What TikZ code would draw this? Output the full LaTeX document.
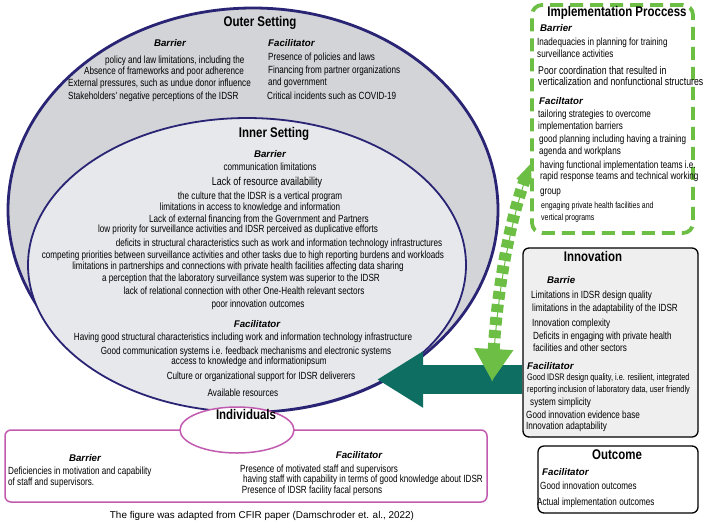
\documentclass[tikz,border=0pt]{standalone}
\usepackage{fontspec}
\setmainfont{Liberation Sans}
\newfontfamily\nar{Liberation Sans}[FakeStretch=0.78]
\newfontfamily\nartl{Liberation Sans}[FakeStretch=0.82]
\usetikzlibrary{arrows.meta,shapes.geometric}
\definecolor{navy}{HTML}{2A2474}
\definecolor{outergray}{HTML}{D3D4D8}
\definecolor{innergray}{HTML}{E7E8EC}
\definecolor{magent}{HTML}{C25BB0}
\definecolor{grn}{HTML}{6CBE45}
\definecolor{tealc}{HTML}{0E6E62}
\definecolor{boxgray}{HTML}{EFEFEF}
\begin{document}
\begin{tikzpicture}[x=1pt,y=-1pt,
  tx/.style={font=\nar\fontsize{#1}{12}\selectfont, inner sep=0pt},
  tx/.default=10.4,
  ttl/.style={font=\nartl\bfseries\fontsize{14}{16}\selectfont, inner sep=0pt},
  sub/.style={font=\bfseries\itshape\fontsize{9.7}{11}\selectfont, inner sep=0pt},
  captxt/.style={font=\fontsize{9.9}{11}\selectfont, inner sep=0pt},
  roundbox/.style={draw, rounded corners=6pt, inner sep=0pt}
]
\useasboundingbox (0,0) rectangle (708,528);
\fill[white] (0,0) rectangle (708,528);

% setting ellipses
\filldraw[fill=outergray, draw=navy, line width=2.8pt] (253,210) ellipse [x radius=245, y radius=202];
\filldraw[fill=innergray, draw=navy, line width=1.8pt] (247,265) ellipse [x radius=219, y radius=147];

% Outer setting text
\node[ttl, anchor=mid] (outerT) at (260,24) {Outer Setting};
\node[sub, anchor=mid] (outerB) at (170,44) {Barrier};
\node[tx, anchor=mid west] (ob1) at (105,61) {policy and law limitations, including the};
\node[tx, anchor=mid west] (ob2) at (84,72) {Absence of frameworks and poor adherence};
\node[tx, anchor=mid west] (ob3) at (68,84) {External pressures, such as undue donor influence};
\node[tx, anchor=mid west] (ob4) at (68,97) {Stakeholders' negative perceptions of the IDSR};
\node[sub, anchor=mid west] (outerF) at (268,44) {Facilitator};
\node[tx, anchor=mid west] (of1) at (268,58) {Presence of policies and laws};
\node[tx, anchor=mid west] (of2) at (268,71) {Financing from partner organizations};
\node[tx, anchor=mid west] (of3) at (268,83) {and government};
\node[tx, anchor=mid west] (of4) at (267,97) {Critical incidents such as COVID-19};

% Inner setting text
\node[ttl, anchor=mid] (innerT) at (274,135) {Inner Setting};
\node[sub, anchor=mid] (innerB) at (270,155) {Barrier};
\node[tx, anchor=mid] (ib1) at (270,168) {communication limitations};
\node[tx=11.5, anchor=mid] (ib2) at (267,183) {Lack of resource availability};
\node[tx, anchor=mid] (ib3) at (260,197) {the culture that the IDSR is a vertical program};
\node[tx, anchor=mid] (ib4) at (250,208) {limitations in access to knowledge and information};
\node[tx, anchor=mid] (ib5) at (259,220) {Lack of external financing from the Government and Partners};
\node[tx, anchor=mid] (ib6) at (238,230) {low priority for surveillance activities and IDSR perceived as duplicative efforts};
\node[tx, anchor=mid] (ib7) at (279,244) {deficits in structural characteristics such as work and information technology infrastructures};
\node[tx, anchor=mid] (ib8) at (243,256) {competing priorities between surveillance activities and other tasks due to high reporting burdens and workloads};
\node[tx, anchor=mid] (ib9) at (238,267) {limitations in partnerships and connections with private health facilities affecting data sharing};
\node[tx, anchor=mid] (ib10) at (241,279) {a perception that the laboratory surveillance system was superior to the IDSR};
\node[tx, anchor=mid] (ib11) at (244,292) {lack of relational connection with other One-Health relevant sectors};
\node[tx, anchor=mid] (ib12) at (258,305) {poor innovation outcomes};
\node[sub, anchor=mid] (innerF) at (257,325) {Facilitator};
\node[tx, anchor=mid] (if1) at (243,338) {Having good structural characteristics including work and information technology infrastructure};
\node[tx, anchor=mid] (if2) at (246,352) {Good communication systems i.e. feedback mechanisms and electronic systems};
\node[tx, anchor=mid] (if3) at (249,362) {access to knowledge and informationipsum};
\node[tx, anchor=mid] (if4) at (261,377) {Culture or organizational support for IDSR deliverers};
\node[tx, anchor=mid] (if5) at (243,394) {Available resources};

% teal arrow
\node[roundbox, fill=boxgray, line width=1.3pt, minimum width=175pt, minimum height=189pt] (innov) at (610.5,342.5) {};
\coordinate (tealtip) at (377,379.5);
\draw[tealc, line width=29pt, -{Triangle[length=46pt,width=53pt]}] (innov.west |- tealtip) -- (tealtip);

% Individuals
\node[roundbox, draw=magent, fill=white, line width=1.5pt, minimum width=482pt, minimum height=72pt] (indbox) at (246,466) {};
\node[ellipse, draw=magent, fill=white, line width=1.5pt, minimum width=114pt, minimum height=46pt, inner sep=0pt] (indell) at (237,430) {};
\node[ttl, anchor=mid] (indT) at (246,417) {Individuals};
\node[sub, anchor=mid] (indB) at (85,459) {Barrier};
\node[tx, anchor=mid west] (indb1) at (8,472) {Deficiencies in motivation and capability};
\node[tx, anchor=mid west] (indb2) at (8,483) {of staff and supervisors.};
\node[sub, anchor=mid] (indF) at (359,456) {Facilitator};
\node[tx, anchor=mid] (indf1) at (319,470) {Presence of motivated staff and supervisors};
\node[tx, anchor=mid] (indf2) at (363,480) {having staff with capability in terms of good knowledge about IDSR};
\node[tx, anchor=mid] (indf3) at (312,491) {Presence of IDSR facility facal persons};

\node[captxt, anchor=mid] (caption) at (262,516) {The figure was adapted from CFIR paper (Damschroder et. al., 2022)};

% Implementation process
\node[draw=grn, fill=white, line width=3.8pt, dash pattern=on 13pt off 7pt, rounded corners=10pt, minimum width=161pt, minimum height=228pt] (impl) at (612.5,119) {};
\node[ttl, anchor=mid] (implT) at (617,14) {Implementation Proccess};
\node[sub, anchor=mid west] (implB) at (540,29) {Barrier};
\node[tx, anchor=mid west] (ipb1) at (537,43) {Inadequacies in planning for training};
\node[tx, anchor=mid west] (ipb2) at (537,55) {surveillance activities};
\node[tx=11.2, anchor=mid west] (ipb3) at (538,72) {Poor coordination that resulted in};
\node[tx=11.2, anchor=mid west] (ipb4) at (538,83) {verticalization and nonfunctional structures};
\node[sub, anchor=mid west] (implF) at (539,102) {Faciltator};
\node[tx, anchor=mid west] (ipf1) at (538,115) {tailoring strategies to overcome};
\node[tx, anchor=mid west] (ipf2) at (538,127) {implementation barriers};
\node[tx, anchor=mid west] (ipf3) at (539,140) {good planning including having a training};
\node[tx, anchor=mid west] (ipf4) at (539,152) {agenda and workplans};
\node[tx, anchor=mid west] (ipf5) at (540,166) {having functional implementation teams i.e.};
\node[tx, anchor=mid west] (ipf6) at (540,177) {rapid response teams and technical working};
\node[tx, anchor=mid west] (ipf7) at (540,192) {group};
\node[tx=8.9, anchor=mid west] (ipf8) at (541,206) {engaging private health facilities and};
\node[tx=8.9, anchor=mid west] (ipf9) at (541,218) {vertical programs};

% Innovation text
\node[ttl, anchor=mid] (innovT) at (593,259) {Innovation};
\node[sub, anchor=mid west] (innovB) at (547,281) {Barrie};
\node[tx, anchor=mid west] (inb1) at (531,296) {Limitations in IDSR design quality};
\node[tx, anchor=mid west] (inb2) at (532,309) {limitations in the adaptability of the IDSR};
\node[tx, anchor=mid west] (inb3) at (532,324) {Innovation complexity};
\node[tx, anchor=mid west] (inb4) at (533,337) {Deficits in engaging with private health};
\node[tx, anchor=mid west] (inb5) at (533,349) {facilities and other sectors};
\node[sub, anchor=mid west] (innovF) at (527,367) {Facilitator};
\node[tx=9.4, anchor=mid west] (inf1) at (527,378) {Good IDSR design quality, i.e. resilient, integrated};
\node[tx=9.4, anchor=mid west] (inf2) at (527,390) {reporting inclusion of laboratory data, user friendly};
\node[tx, anchor=mid west] (inf3) at (530,403) {system simplicity};
\node[tx, anchor=mid west] (inf4) at (526,416) {Good innovation evidence base};
\node[tx, anchor=mid west] (inf5) at (526,427) {Innovation adaptability};

% Outcome
\node[roundbox, fill=white, line width=1.3pt, minimum width=160pt, minimum height=67pt] (outc) at (618,479.5) {};
\node[ttl, anchor=mid] (outcT) at (617,457) {Outcome};
\node[sub, anchor=mid west] (outcF) at (542,473) {Facilitator};
\node[tx, anchor=mid west] (ocf1) at (540,487) {Good innovation outcomes};
\node[tx, anchor=mid west] (ocf2) at (537,503) {Actual implementation outcomes};

% green double arrow
\coordinate (gbot) at (492,381);
\coordinate (gtop) at (531,163);
\draw[grn, line width=1pt] (gbot) .. controls (497,290) and (510,220) .. (gtop);
\draw[grn, line width=12pt, dash pattern=on 8pt off 5pt,
  {Triangle[length=32pt,width=37pt]}-{Triangle[length=20pt,width=15pt]}]
  (gbot) .. controls (497,290) and (510,220) .. (gtop);
\end{tikzpicture}
\end{document}
